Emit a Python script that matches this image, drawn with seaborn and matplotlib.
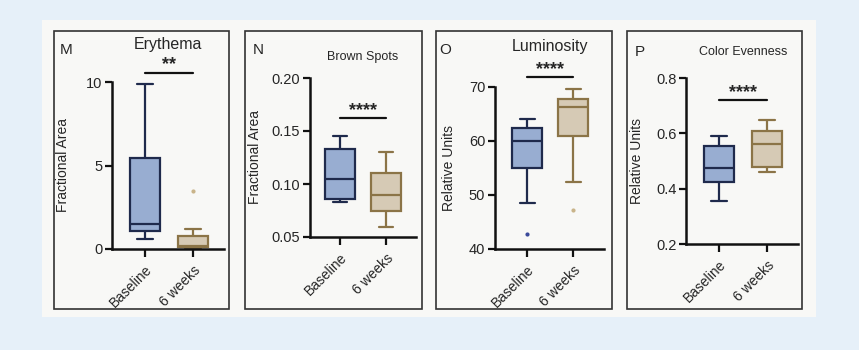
import numpy as np
import pandas as pd
import seaborn as sns
import matplotlib.pyplot as plt
from matplotlib.patches import Rectangle

# five-number summaries: [low whisker, Q1, median, Q3, high whisker]
groups = ["Baseline", "6 weeks"]
titles = ["Erythema", "Brown Spots", "Luminosity", "Color Evenness"]
letters = ["M", "N", "O", "P"]
ylabels = ["Fractional Area", "Fractional Area", "Relative Units", "Relative Units"]
stars = ["**", "****", "****", "****"]

erythema_base = [0.6, 1.05, 1.5, 5.45, 9.9]
erythema_6w = [0.0, 0.1, 0.2, 0.75, 1.2]
brown_base = [0.083, 0.086, 0.105, 0.133, 0.145]
brown_6w = [0.059, 0.075, 0.090, 0.110, 0.130]
lum_base = [48.5, 55.0, 60.0, 62.5, 64.0]
lum_6w = [52.5, 61.0, 66.3, 67.7, 69.7]
even_base = [0.355, 0.425, 0.475, 0.555, 0.592]
even_6w = [0.46, 0.48, 0.562, 0.607, 0.65]

# outliers: (group, value)
erythema_out = [("6 weeks", 3.5)]
brown_out = []
lum_out = [("Baseline", 42.8), ("6 weeks", 47.2)]
even_out = []

ylims = [(0, 10), (0.05, 0.20), (40, 70), (0.2, 0.8)]
yticks = [[0, 5, 10], [0.05, 0.10, 0.15, 0.20], [40, 50, 60, 70], [0.2, 0.4, 0.6, 0.8]]
ytickfmt = ["{:g}", "{:.2f}", "{:g}", "{:.1f}"]
sig_y = [10.55, 0.162, 71.8, 0.72]

data = [(erythema_base, erythema_6w, erythema_out),
        (brown_base, brown_6w, brown_out),
        (lum_base, lum_6w, lum_out),
        (even_base, even_6w, even_out)]

fill = {"Baseline": "#8eaadb", "6 weeks": "#dccbaf"}
edge = {"Baseline": "#1f2a4c", "6 weeks": "#8b7447"}

W, H = 859, 350
fig = plt.figure(figsize=(W / 100, H / 100), dpi=100)
fig.patch.set_facecolor("#e6f0f9")
sns.set_style("ticks")
plt.rcParams["font.family"] = ["Liberation Sans", "DejaVu Sans"]


def fx(px):
    return px / W


def fy(py):
    return 1 - py / H


# white sheet and panel frames
fig.add_artist(Rectangle((fx(42), fy(317)), fx(816 - 42), (317 - 20) / H,
                         transform=fig.transFigure, facecolor="#f8f8f6", edgecolor="none", zorder=0))
panels = [(54, 229), (245, 422), (436, 612), (627, 802)]
for l, r in panels:
    fig.add_artist(Rectangle((fx(l), fy(309)), fx(r - l), (309 - 31) / H,
                             transform=fig.transFigure, facecolor="none", edgecolor="#333333",
                             linewidth=1.2, zorder=1))

# axes extents in pixels: left, right, top, bottom, and x-limits
axes_px = [(112, 224, 82, 249, (-0.69, 1.65)),
           (310, 416, 78, 237, (-0.65, 1.65)),
           (495, 604, 87, 249, (-0.70, 1.67)),
           (686, 798, 78, 244, (-0.69, 1.65))]
title_pos = [(168, 44, 11.5), (363, 57, 9), (550, 46, 11.5), (743, 52, 9)]
letter_pos = [(66, 50), (258, 50), (445, 50), (640, 52)]
ylabel_x = [63, 255, 449, 637]

for i in range(4):
    base, wk6, outs = data[i]
    l, r, t, b, xl = axes_px[i]
    ax = fig.add_axes([fx(l), fy(b), fx(r - l), (b - t) / H])
    ax.patch.set_alpha(0)
    df = pd.DataFrame({"group": ["Baseline"] * 5 + ["6 weeks"] * 5,
                       "value": base + wk6})
    sns.boxplot(data=df, x="group", y="value", hue="group", order=groups, hue_order=groups,
                palette=fill, width=0.64, whis=(0, 100), linewidth=1.6, showfliers=False,
                legend=False, ax=ax)
    for j, g in enumerate(groups):
        patch = ax.patches[j]
        patch.set_edgecolor(edge[g])
        for ln in ax.lines[j * 5:(j + 1) * 5]:
            ln.set_color(edge[g])
    if outs:
        odf = pd.DataFrame(outs, columns=["group", "value"])
        sns.stripplot(data=odf, x="group", y="value", hue="group", order=groups,
                      palette={"Baseline": "#3b4a9a", "6 weeks": "#c9b48a"},
                      jitter=False, size=3, legend=False, ax=ax, clip_on=False)
    ax.set_xlim(*xl)
    ax.set_ylim(*ylims[i])
    ax.set_yticks(yticks[i])
    ax.set_yticklabels([ytickfmt[i].format(v) for v in yticks[i]], fontsize=10.5)
    ax.set_xticks([0, 1])
    ax.set_xticklabels(groups, rotation=45, ha="right", rotation_mode="anchor", fontsize=10)
    ax.tick_params(axis="both", length=5, width=1.6, color="#111111", pad=2)
    ax.tick_params(axis="x", length=6, pad=4)
    for s in ["left", "bottom"]:
        ax.spines[s].set_linewidth(1.8)
        ax.spines[s].set_color("#111111")
    sns.despine(ax=ax, top=True, right=True)
    ax.set_xlabel("")
    ax.set_ylabel("")
    # significance bar
    span = ylims[i][1] - ylims[i][0]
    ax.plot([0, 1], [sig_y[i], sig_y[i]], color="#111111", linewidth=1.6, clip_on=False)
    ax.text(0.5, sig_y[i] + span * 0.02, stars[i], ha="center", va="baseline",
            fontsize=13, fontweight="bold", clip_on=False)
    tx, ty, ts = title_pos[i]
    fig.text(fx(tx), fy(ty), titles[i], ha="center", va="center", fontsize=ts)
    lx, ly = letter_pos[i]
    fig.text(fx(lx), fy(ly), letters[i], ha="center", va="center", fontsize=11)
    fig.text(fx(ylabel_x[i]), fy((t + b) / 2), ylabels[i], rotation=90,
             ha="center", va="center", fontsize=10)

fig.savefig("out.png", dpi=100, facecolor=fig.get_facecolor())
